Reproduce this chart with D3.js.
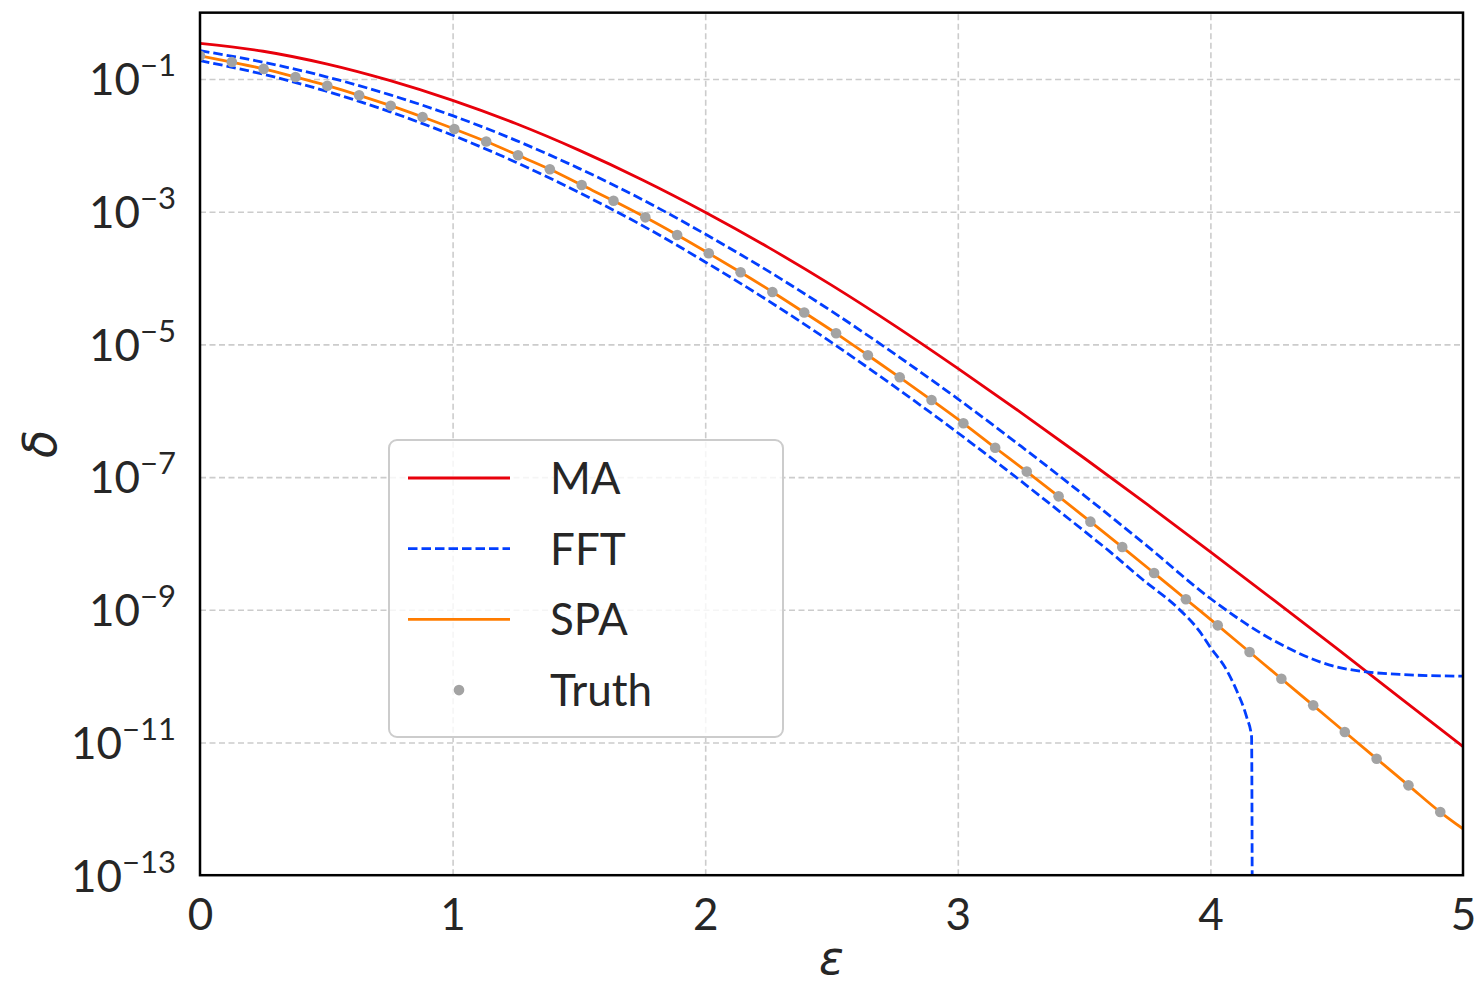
<!DOCTYPE html>
<html>
<head>
<meta charset="utf-8">
<script src="https://cdn.jsdelivr.net/npm/d3@7"></script>
<style>
  html, body { margin: 0; padding: 0; background: #fff; }
  svg text { font-family: "Source Sans Pro", Lato, "Noto Sans", sans-serif; fill: #262626; }
</style>
</head>
<body>
<div id="chart"></div>
<script>
// eps grid of the "Truth" dots and the SPA line
const truthEps = [0.000, 0.126, 0.252, 0.378, 0.504, 0.630, 0.755, 0.881, 1.007, 1.133,
  1.259, 1.385, 1.511, 1.637, 1.763, 1.889, 2.014, 2.140, 2.266, 2.392,
  2.518, 2.644, 2.770, 2.896, 3.022, 3.148, 3.273, 3.399, 3.525, 3.651,
  3.777, 3.903, 4.029, 4.155, 4.281, 4.407, 4.532, 4.658, 4.784, 4.910];
const truthDelta = [2.24e-1, 1.80e-1, 1.42e-1, 1.07e-1, 7.93e-2, 5.68e-2, 3.96e-2, 2.67e-2, 1.76e-2, 1.14e-2,
  7.08e-3, 4.36e-3, 2.52e-3, 1.46e-3, 8.22e-4, 4.46e-4, 2.36e-4, 1.22e-4, 6.17e-5, 3.03e-5,
  1.47e-5, 6.86e-6, 3.19e-6, 1.45e-6, 6.47e-7, 2.77e-7, 1.21e-7, 5.13e-8, 2.13e-8, 8.83e-9,
  3.58e-9, 1.44e-9, 5.83e-10, 2.31e-10, 9.14e-11, 3.63e-11, 1.44e-11, 5.70e-12, 2.26e-12, 8.95e-13];

const spaEps = [0.000, 0.126, 0.252, 0.378, 0.504, 0.630, 0.755, 0.881, 1.007, 1.133,
  1.259, 1.385, 1.511, 1.637, 1.763, 1.889, 2.014, 2.140, 2.266, 2.392,
  2.518, 2.644, 2.770, 2.896, 3.022, 3.148, 3.273, 3.399, 3.525, 3.651,
  3.777, 3.903, 4.029, 4.155, 4.281, 4.407, 4.532, 4.658, 4.784, 4.910, 5.000];
const spaDelta = [2.24e-1, 1.80e-1, 1.42e-1, 1.07e-1, 7.93e-2, 5.68e-2, 3.96e-2, 2.67e-2, 1.76e-2, 1.14e-2,
  7.08e-3, 4.36e-3, 2.52e-3, 1.46e-3, 8.22e-4, 4.46e-4, 2.36e-4, 1.22e-4, 6.17e-5, 3.03e-5,
  1.47e-5, 6.86e-6, 3.19e-6, 1.45e-6, 6.47e-7, 2.77e-7, 1.21e-7, 5.13e-8, 2.13e-8, 8.83e-9,
  3.58e-9, 1.44e-9, 5.83e-10, 2.31e-10, 9.14e-11, 3.63e-11, 1.44e-11, 5.70e-12, 2.26e-12, 8.95e-13, 5.0e-13];

const maEps = [0, 0.25, 0.5, 0.75, 1, 1.25, 1.5, 1.75, 2, 2.25, 2.5, 2.75, 3, 3.25, 3.5, 3.75, 4, 4.25, 4.5, 4.75, 5];
const maDelta = [3.45e-1, 2.62e-1, 1.69e-1, 9.51e-2, 4.76e-2, 2.13e-2, 8.47e-3, 3.04e-3, 9.84e-4, 2.90e-4,
  7.82e-5, 1.92e-5, 4.35e-6, 9.40e-7, 1.94e-7, 3.87e-8, 7.46e-9, 1.41e-9, 2.62e-10, 4.76e-11, 8.67e-12];

// FFT upper and lower bounds
const fftUpperEps = [0, 0.25, 0.5, 0.75, 1, 1.25, 1.5, 1.75, 2, 2.25, 2.5, 2.75, 3, 3.25, 3.5, 3.75, 4, 4.25, 4.5, 4.75, 5];
const fftUpperDelta = [2.67e-1, 1.79e-1, 1.08e-1, 5.81e-2, 2.80e-2, 1.19e-2, 4.50e-3, 1.53e-3, 4.60e-4, 1.27e-4,
  3.17e-5, 7.19e-6, 1.51e-6, 2.92e-7, 5.31e-8, 9.12e-9, 1.48e-9, 3.45e-10, 1.38e-10, 1.06e-10, 1.00e-10];

const fftLowerEps = [0, 0.25, 0.5, 0.75, 1, 1.25, 1.5, 1.75, 2, 2.25, 2.5, 2.75, 3, 3.25, 3.5,
  3.602, 3.734, 3.866, 3.958, 3.998, 4.064, 4.103, 4.143, 4.163, 4.166];
const fftLowerDelta = [1.89e-1, 1.18e-1, 6.55e-2, 3.23e-2, 1.42e-2, 5.58e-3, 1.95e-3, 6.22e-4, 1.75e-4, 4.54e-5,
  1.07e-5, 2.31e-6, 4.66e-7, 8.71e-8, 1.54e-8,
  7.52e-9, 2.81e-9, 1.11e-9, 4.68e-10, 2.78e-10, 1.24e-10, 6.18e-11, 2.45e-11, 1.22e-11, 0];

const xTicks = [0, 1, 2, 3, 4, 5];
const yTickExps = [-1, -3, -5, -7, -9, -11, -13];

const series = ["MA", "FFT", "SPA", "Truth"];
const colors = { MA: "#e8000b", FFT: "#023eff", SPA: "#ff7c00", Truth: "#a3a3a3" };

const W = 1481, H = 990;
const pLeft = 200, pRight = 1463, pTop = 12.65, pBottom = 875.2;

const svg = d3.select("#chart").append("svg").attr("width", W).attr("height", H);

const x = d3.scaleLinear().domain([0, 5]).range([pLeft, pRight]);
const y = d3.scaleLog().domain([1e-13, 1]).range([pBottom, pTop]);

svg.append("defs").append("clipPath").attr("id", "plot-clip")
  .append("rect").attr("x", pLeft).attr("y", pTop)
  .attr("width", pRight - pLeft).attr("height", pBottom - pTop);

// grid
svg.append("g")
  .attr("transform", `translate(0,${pBottom})`)
  .call(d3.axisBottom(x).tickValues([1, 2, 3, 4]).tickSize(-(pBottom - pTop)).tickFormat(""))
  .call(g => g.select(".domain").remove())
  .selectAll("line").attr("stroke", "#cccccc").attr("stroke-width", 1.6).attr("stroke-dasharray", "6,3.5");

svg.append("g")
  .attr("transform", `translate(${pLeft},0)`)
  .call(d3.axisLeft(y).tickValues(yTickExps.slice(0, -1).map(e => Math.pow(10, e))).tickSize(-(pRight - pLeft)).tickFormat(""))
  .call(g => g.select(".domain").remove())
  .selectAll("line").attr("stroke", "#cccccc").attr("stroke-width", 1.6).attr("stroke-dasharray", "6,3.5");

// data
const plot = svg.append("g").attr("clip-path", "url(#plot-clip)");
const yv = d => d > 0 ? y(d) : pBottom + 60;
const line = d3.line().x(d => x(d[0])).y(d => yv(d[1])).curve(d3.curveMonotoneX);
const lw = 2.8;

plot.append("path")
  .attr("d", line(d3.zip(maEps, maDelta)))
  .attr("fill", "none").attr("stroke", colors.MA).attr("stroke-width", lw);

plot.append("path")
  .attr("d", line(d3.zip(fftUpperEps, fftUpperDelta)))
  .attr("fill", "none").attr("stroke", colors.FFT).attr("stroke-width", lw).attr("stroke-dasharray", "9.5,4");

plot.append("path")
  .attr("d", line(d3.zip(fftLowerEps, fftLowerDelta)))
  .attr("fill", "none").attr("stroke", colors.FFT).attr("stroke-width", lw).attr("stroke-dasharray", "9.5,4");

plot.append("path")
  .attr("d", line(d3.zip(spaEps, spaDelta)))
  .attr("fill", "none").attr("stroke", colors.SPA).attr("stroke-width", lw);

plot.selectAll("circle.truth")
  .data(d3.zip(truthEps, truthDelta))
  .enter().append("circle")
  .attr("class", "truth")
  .attr("cx", d => x(d[0])).attr("cy", d => y(d[1]))
  .attr("r", 5.3).attr("fill", colors.Truth);

// frame
svg.append("rect")
  .attr("x", pLeft).attr("y", pTop)
  .attr("width", pRight - pLeft).attr("height", pBottom - pTop)
  .attr("fill", "none").attr("stroke", "#000").attr("stroke-width", 2.5);

// tick labels
svg.append("g")
  .attr("transform", `translate(0,${pBottom})`)
  .call(d3.axisBottom(x).tickValues(xTicks).tickSize(0).tickPadding(24).tickFormat(d3.format("d")))
  .call(g => g.select(".domain").remove())
  .selectAll("text").attr("font-size", 44).attr("font-family", null);

svg.append("g")
  .attr("transform", `translate(${pLeft},0)`)
  .call(d3.axisLeft(y).tickValues(yTickExps.map(e => Math.pow(10, e))).tickSize(0).tickPadding(24).tickFormat(""))
  .call(g => g.select(".domain").remove())
  .selectAll("text")
  .attr("font-size", 44).attr("font-family", null).attr("dy", "0.36em")
  .each(function(d, i) {
    const t = d3.select(this);
    t.append("tspan").text("10");
    t.append("tspan").attr("dy", -19).attr("font-size", 31).text("\u2212" + Math.abs(yTickExps[i]));
  });

// axis labels
svg.append("text")
  .attr("x", (pLeft + pRight) / 2).attr("y", 974)
  .attr("text-anchor", "middle")
  .style("font-family", "'DejaVu Sans', sans-serif").style("font-style", "italic")
  .attr("font-size", 46)
  .text("ε");

svg.append("text")
  .attr("transform", `translate(56,${(pTop + pBottom) / 2}) rotate(-90)`)
  .attr("text-anchor", "middle")
  .style("font-family", "'DejaVu Sans', sans-serif").style("font-style", "italic")
  .attr("font-size", 46)
  .text("δ");

// legend
const legend = svg.append("g").attr("transform", "translate(389,440)");
legend.append("rect")
  .attr("width", 394).attr("height", 297).attr("rx", 8)
  .attr("fill", "#fff").attr("fill-opacity", 0.8)
  .attr("stroke", "#cccccc").attr("stroke-width", 2);

const rows = legend.selectAll("g.row").data(series).enter().append("g")
  .attr("class", "row")
  .attr("transform", (d, i) => `translate(0,${38 + i * 70.7})`);

rows.filter(d => d !== "Truth").append("line")
  .attr("x1", 19).attr("x2", 121)
  .attr("stroke", d => colors[d]).attr("stroke-width", lw)
  .attr("stroke-dasharray", d => d === "FFT" ? "9.5,4" : null);

rows.filter(d => d === "Truth").append("circle")
  .attr("cx", 70).attr("r", 5.3).attr("fill", colors.Truth);

rows.append("text")
  .attr("x", 161).attr("dy", "0.36em")
  .attr("font-size", 44)
  .text(d => d);
</script>
</body>
</html>
